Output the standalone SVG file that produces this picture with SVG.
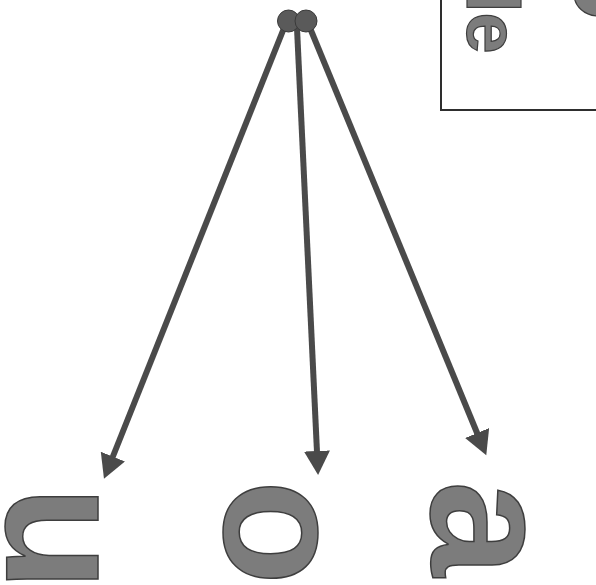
<svg xmlns="http://www.w3.org/2000/svg" width="596" height="585" viewBox="0 0 596 585">
  <style>
    .big { font-family: "Liberation Sans", Arial, sans-serif; font-weight: bold; font-size: 172px; fill: #7c7c7c; stroke: #3e3e3e; stroke-width: 1.5; }
    .boxtxt { font-family: "Liberation Sans", Arial, sans-serif; font-weight: bold; font-size: 74px; fill: #7c7c7c; stroke: #3e3e3e; stroke-width: 1.2; }
    .conn { stroke: #4a4a4a; stroke-width: 6; fill: none; }
  </style>
  <defs>
    <marker id="head" markerUnits="userSpaceOnUse" markerWidth="26" markerHeight="28" refX="1" refY="13" orient="auto">
      <path d="M0,0 L24,13 L0,26 Z" fill="#4a4a4a"/>
    </marker>
  </defs>
  <rect width="596" height="585" fill="#ffffff"/>

  <g id="legend-box">
    <path d="M441,-2 L441,110 L598,110" fill="none" stroke="#2e2e2e" stroke-width="2"/>
    <text class="boxtxt" transform="translate(467,-8) rotate(90)">le</text>
    <ellipse cx="598" cy="-6" rx="24" ry="22" fill="#7c7c7c" stroke="#3e3e3e" stroke-width="1.2"/>
  </g>

  <g id="connectors">
    <line class="conn" x1="284" y1="28" x2="112.5" y2="457.5" marker-end="url(#head)"/>
    <line class="conn" x1="297" y1="28" x2="317" y2="452" marker-end="url(#head)"/>
    <line class="conn" x1="310" y1="28" x2="477.5" y2="434" marker-end="url(#head)"/>
  </g>

  <g id="root-node">
    <circle cx="288.5" cy="21" r="11" fill="#5a5a5a" stroke="#3a3a3a" stroke-width="1"/>
    <circle cx="306" cy="21" r="11" fill="#5a5a5a" stroke="#3a3a3a" stroke-width="1"/>
  </g>

  <g id="node-u">
    <text class="big" transform="translate(7,486) rotate(90)">u</text>
  </g>
  <g id="node-o">
    <text class="big" transform="translate(225,480) rotate(90)">o</text>
  </g>
  <g id="node-a">
    <text class="big" transform="translate(432,481) rotate(90)">a</text>
  </g>
</svg>
